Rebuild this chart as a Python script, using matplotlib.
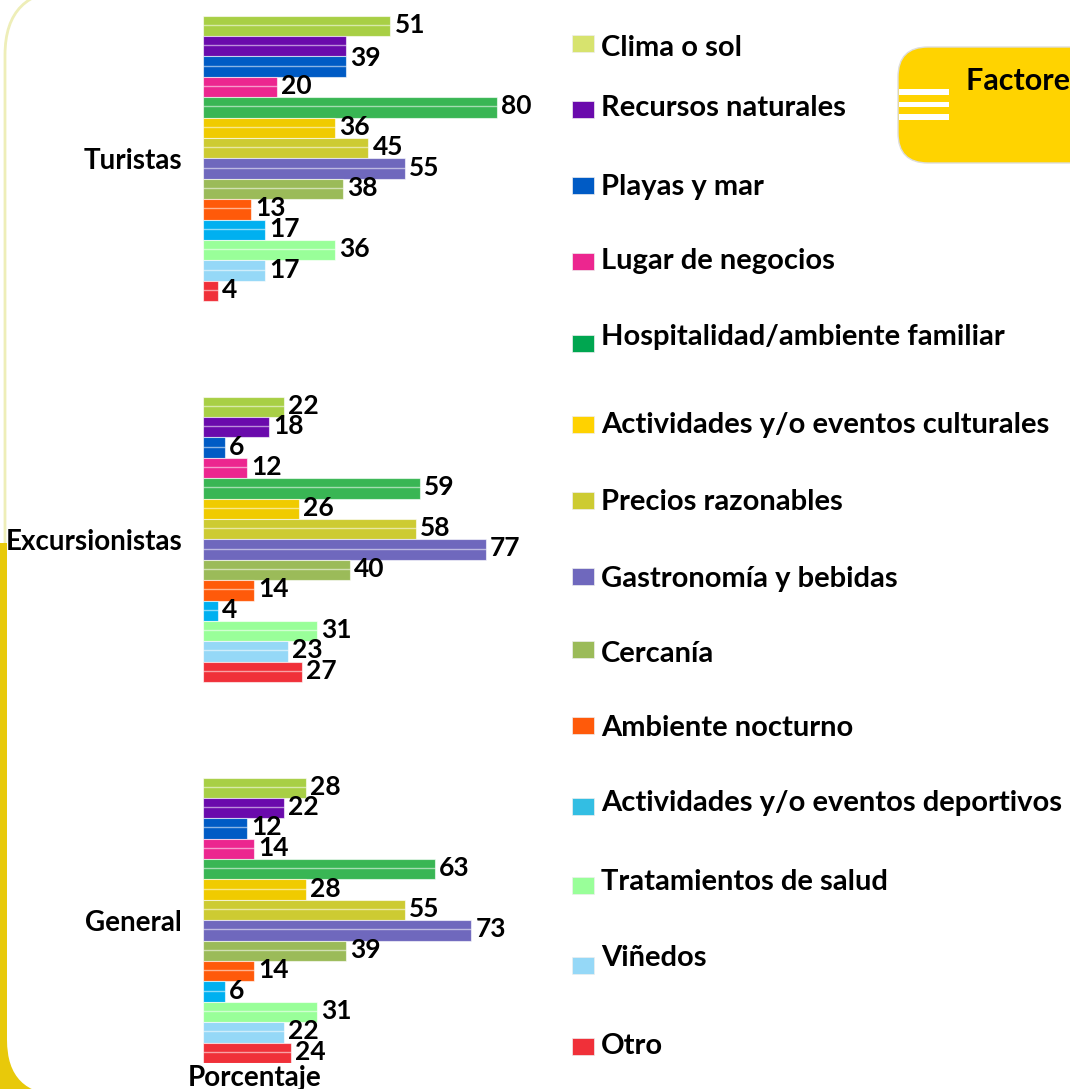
import numpy as np
import matplotlib.pyplot as plt
from matplotlib.patches import FancyBboxPatch, Rectangle

plt.rcParams['font.family'] = ['Lato', 'DejaVu Sans']
plt.rcParams['font.weight'] = 'bold'
plt.rcParams['axes.labelweight'] = 'bold'

groups = ['Turistas', 'Excursionistas', 'General']
factors = ['Clima o sol', 'Recursos naturales', 'Playas y mar', 'Lugar de negocios',
           'Hospitalidad/ambiente familiar', 'Actividades y/o eventos culturales',
           'Precios razonables', 'Gastronomía y bebidas', 'Cercanía',
           'Ambiente nocturno', 'Actividades y/o eventos deportivos',
           'Tratamientos de salud', 'Viñedos', 'Otro']
turistas = [51, 39, 39, 20, 80, 36, 45, 55, 38, 13, 17, 36, 17, 4]
excursionistas = [22, 18, 6, 12, 59, 26, 58, 77, 40, 14, 4, 31, 23, 27]
general = [28, 22, 12, 14, 63, 28, 55, 73, 39, 14, 6, 31, 22, 24]

bar_colors = ['#A8CF45', '#6A0AAC', '#005BC5', '#EC268F', '#39B654', '#F0CB00',
              '#CDCB32', '#6F68BD', '#9BBB59', '#FF5A0A', '#00B0F0', '#99FF99',
              '#95D8F7', '#F03039']
legend_colors = ['#D7E36E', '#6A0AAC', '#005BC5', '#EC268F', '#00A650', '#FFD200',
                 '#CDCB32', '#6F68BD', '#9BBB59', '#FF5A0A', '#33BEE3', '#99FF99',
                 '#95D8F7', '#F03039']

# legend layout (pixel rows, top-down)
legend_text_y = [45, 106, 184, 259, 335, 422, 500, 576, 651, 725, 801, 879, 955, 1043]
legend_patch_y = [43, 109, 185, 261, 343, 424, 500, 576, 649, 725, 806, 885, 965, 1046]

W, H = 1070, 1089
fig = plt.figure(figsize=(W / 100, H / 100), dpi=100)

# background decoration, in pixel coordinates
bg = fig.add_axes([0, 0, 1, 1], zorder=-1)
bg.set_xlim(0, W)
bg.set_ylim(H, 0)
bg.axis('off')
bg.add_patch(FancyBboxPatch((5, -10), 1300, 1300, boxstyle='round,pad=0,rounding_size=65',
                            fc='none', ec='#EEEEB8', lw=2))
bg.add_patch(Rectangle((0, 543), 90, 560, fc='#E8C90A', ec='none'))
bg.add_patch(FancyBboxPatch((7, 300), 1300, 795, boxstyle='round,pad=0,rounding_size=55',
                            fc='white', ec='none'))

# title box (cut at the right edge)
bg.add_patch(FancyBboxPatch((898, 47), 400, 116, boxstyle='round,pad=0,rounding_size=30',
                            fc='#FFD300', ec='#DDDDDD', lw=1))
for sy in (89, 101.5, 114):
    bg.add_patch(Rectangle((899, sy), 50, 5.5, fc='white', ec='none'))
bg.text(966, 90, 'Factores de elección', fontsize=22, va='baseline', ha='left')

# legend
for name, col, ty, py in zip(factors, legend_colors, legend_text_y, legend_patch_y):
    bg.add_patch(Rectangle((572, py - 8.5), 22, 17, fc=col, ec='#EEEEEE', lw=0.5))
    bg.text(601, ty, name, fontsize=21, va='center_baseline', ha='left')

# main bar chart
ax = fig.add_axes([203 / W, 1 - 1063 / H, 317 / W, 1047.3 / H])
ax.patch.set_alpha(0)

gap = 4.68
period = len(factors) + gap
series = [turistas, excursionistas, general]

for g, vals in enumerate(series):
    y = g * period + np.arange(len(vals)) + 0.5
    ax.barh(y, vals, height=1.0, color=bar_colors, edgecolor=(1, 1, 1, 0.6), linewidth=0.8)
    ax.hlines(y - 0.05, 0, vals, colors='white', alpha=0.55, lw=1.0)
    for i, v in enumerate(vals):
        if i > 0 and vals[i - 1] == v:
            continue
        ly = y[i] - 0.15
        if i + 1 < len(vals) and vals[i + 1] == v:
            ly = y[i] + 0.5
        ax.annotate(str(v), (v, ly), xytext=(3, 0), textcoords='offset points',
                    fontsize=19, fontweight='bold', va='center_baseline', ha='left')

ax.set_xlim(0, 317 / 3.675)
ax.set_ylim(2 * period + len(factors), 0)
ax.set_yticks([g * period + len(factors) / 2 for g in range(len(groups))])
ax.set_yticklabels(groups, fontsize=20)
ax.tick_params(axis='y', length=0, pad=15)
ax.set_xticks([])
for s in ax.spines.values():
    s.set_visible(False)

ax.set_xlabel('Porcentaje', fontsize=20, fontweight='bold')
ax.xaxis.set_label_coords(52 / 317, -0.002)

fig.savefig('out.png', dpi=100)
